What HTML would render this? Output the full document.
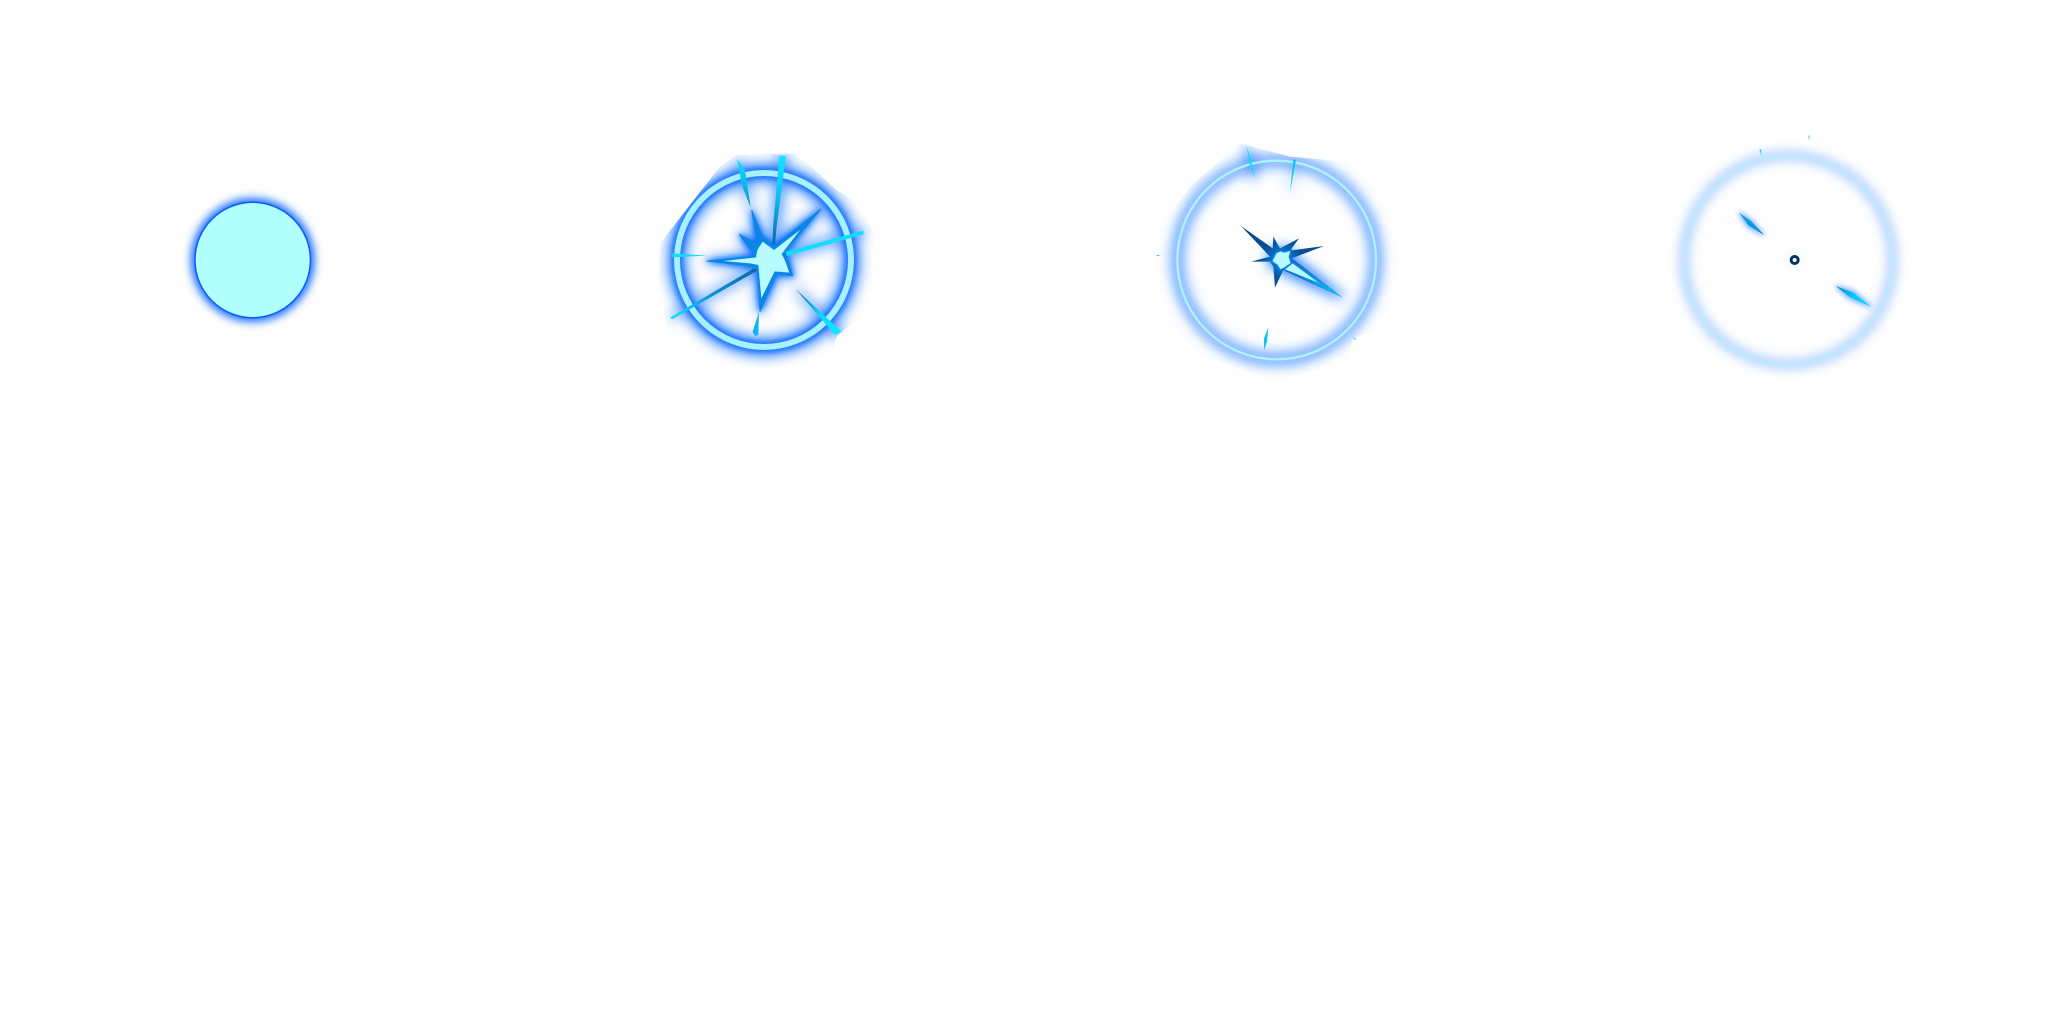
<!DOCTYPE html>
<html lang="en">
<head>
<meta charset="utf-8">
<title>Blue energy burst animation frames</title>
<style>
html,body{margin:0;padding:0;width:2048px;height:1024px;overflow:hidden;background:#fefefe}
svg{display:block}
</style>
</head>
<body>
<svg width="2048" height="1024" viewBox="0 0 2048 1024" xmlns="http://www.w3.org/2000/svg">
<defs>
<filter id="g1" filterUnits="userSpaceOnUse" x="100" y="100" width="320" height="320"><feGaussianBlur stdDeviation="4.5"/></filter>
<filter id="g2" filterUnits="userSpaceOnUse" x="-200" y="-200" width="1300" height="1300"><feGaussianBlur stdDeviation="20"/></filter>
<filter id="g2t" filterUnits="userSpaceOnUse" x="-200" y="-200" width="1300" height="1300"><feGaussianBlur stdDeviation="9"/></filter>
<filter id="g3" filterUnits="userSpaceOnUse" x="-200" y="-200" width="1300" height="1300"><feGaussianBlur stdDeviation="20"/></filter>
<filter id="g4" filterUnits="userSpaceOnUse" x="-200" y="-200" width="1300" height="1300"><feGaussianBlur stdDeviation="17"/></filter>
<filter id="g5" filterUnits="userSpaceOnUse" x="-200" y="-200" width="1300" height="1300"><feGaussianBlur stdDeviation="9"/></filter>
<clipPath id="c2"><polygon points="290,75 470,70 590,180 640,210 700,300 710,450 660,560 590,620 570,700 300,730 90,630 55,480 60,340 150,225 240,110"/></clipPath>
<clipPath id="c3"><polygon points="300,70 450,110 620,125 720,160 780,300 780,600 640,655 620,720 400,790 130,680 35,450 50,330 150,200"/></clipPath>
<linearGradient id="s2a" gradientUnits="userSpaceOnUse" x1="428" y1="78" x2="402" y2="340"><stop offset="0" stop-color="#11e5ff"/><stop offset=".4" stop-color="#0cc8f5"/><stop offset="1" stop-color="#0b69ad"/></linearGradient>
<linearGradient id="s2b" gradientUnits="userSpaceOnUse" x1="292" y1="87" x2="332" y2="235"><stop offset="0" stop-color="#0be4ff"/><stop offset="1" stop-color="#0f8fd0"/></linearGradient>
<linearGradient id="s2c" gradientUnits="userSpaceOnUse" x1="90" y1="565" x2="345" y2="420"><stop offset="0" stop-color="#10e5ff"/><stop offset=".5" stop-color="#0d90d8"/><stop offset="1" stop-color="#0e6aa8"/></linearGradient>
<linearGradient id="s2d" gradientUnits="userSpaceOnUse" x1="468" y1="478" x2="600" y2="610"><stop offset="0" stop-color="#0c6aa8"/><stop offset=".6" stop-color="#0bdcff"/><stop offset="1" stop-color="#10e8ff"/></linearGradient>
<radialGradient id="st3" gradientUnits="userSpaceOnUse" cx="425" cy="420" r="150"><stop offset="0" stop-color="#0a8cf0"/><stop offset=".4" stop-color="#074f98"/><stop offset="1" stop-color="#06467c"/></radialGradient>
<linearGradient id="sp3" gradientUnits="userSpaceOnUse" x1="450" y1="430" x2="607" y2="532"><stop offset="0" stop-color="#0a74d8"/><stop offset="1" stop-color="#08c8ff"/></linearGradient>
<linearGradient id="d4a" gradientUnits="userSpaceOnUse" x1="237" y1="278" x2="312" y2="345"><stop offset="0" stop-color="#0aa8ea"/><stop offset=".7" stop-color="#0a96dc"/><stop offset="1" stop-color="#06508c"/></linearGradient>
<linearGradient id="d4b" gradientUnits="userSpaceOnUse" x1="527" y1="498" x2="633" y2="560"><stop offset="0" stop-color="#0a80d0"/><stop offset=".5" stop-color="#04c8ff"/><stop offset="1" stop-color="#08d8ff"/></linearGradient>
</defs>

<rect width="2048" height="1024" fill="#fefefe"/>

<!-- Frame 1 -->
<g>
<circle cx="252.7" cy="260" r="61.5" fill="#0a62ff" filter="url(#g1)"/>
<circle cx="252.7" cy="260" r="58.5" fill="#0060ff"/>
<circle cx="252.7" cy="260" r="57" fill="#b2ffff"/>
</g>

<!-- Frame 2 -->
<g transform="translate(640 130) scale(.33333)">
<g clip-path="url(#c2)">
<g filter="url(#g2)" fill="#0a6cff" stroke="#0a6cff" opacity=".8">
<circle cx="372" cy="390" r="261" fill="none" stroke-width="55"/>
<polygon stroke-width="14" points="298,313 350,340 335,240 368,320 402,348 543,237 435,365 445,395 458,437 410,432 360,545 352,415 330,408 200,393 345,378"/>
<polygon stroke-width="12" points="418,78 438,78 410,340 397,340"/>
<polygon stroke-width="12" points="292,87 315,120 332,232"/>
<polygon stroke-width="12" points="670,302 670,312 440,378 435,365"/>
<polygon stroke-width="12" points="90,565 340,418 355,420 150,535"/>
<polygon stroke-width="12" points="468,478 605,605 585,615"/>
</g>
<g filter="url(#g2t)" fill="none" stroke="#0a6cff">
<circle cx="372" cy="390" r="261" stroke-width="30"/>
<polygon fill="#0a6cff" stroke-width="6" points="298,313 350,340 335,240 368,320 402,348 543,237 435,365 445,395 458,437 410,432 360,545 352,415 330,408 200,393 345,378"/>
</g>
</g>
<circle cx="372" cy="390" r="261" fill="none" stroke="#a6f0ff" stroke-width="18"/>
<polygon points="292,87 315,120 332,232 305,165" fill="url(#s2b)"/>
<polygon points="418,78 438,78 410,290 405,345 397,345 400,280" fill="url(#s2a)"/>
<polygon points="670,302 670,313 440,378 434,366" fill="#0fdcff"/>
<polygon points="97,370 203,377 97,382" fill="#14dcff"/>
<polygon points="90,563 340,416 355,420 96,568" fill="url(#s2c)"/>
<polygon points="357,545 355,615 345,618 338,605" fill="#0fb4f0"/>
<polygon points="468,478 605,605 585,615" fill="url(#s2d)"/>
<polygon points="298,313 352,343 335,240 368,320 402,348 543,237 435,365 445,395 458,437 410,432 360,545 352,415 330,408 200,393 345,378" fill="#0c86e6" stroke="#0c86e6" stroke-width="3" stroke-miterlimit="2"/>
<polygon points="352,360 368,335 402,360 480,300 425,372 435,392 448,428 404,424 364,505 355,405 330,400 250,393 348,382" fill="#b8fbff"/>
</g>

<!-- Frame 3 -->
<g transform="translate(1140 120) scale(.33333)">
<g clip-path="url(#c3)">
<g filter="url(#g3)" fill="#0a6cff" stroke="#0a6cff">
<circle cx="410" cy="420" r="298" fill="none" stroke-width="32" opacity=".75"/>
<polygon stroke-width="14" points="320,78 345,175 330,130"/>
<polygon stroke-width="6" opacity=".5" points="460,118 467,120 450,218"/>
<polygon stroke-width="14" points="395,395 450,392 455,415 607,532 430,450 390,425"/>
</g>
</g>
<circle cx="410" cy="420" r="298" fill="none" stroke="#a8f4ff" stroke-width="7"/>
<polygon points="320,78 333,120 345,175 328,130" fill="#0ce0ff"/>
<polygon points="460,118 468,120 450,218" fill="#0cc8f0"/>
<polygon points="385,622 381,665 372,690 372,655" fill="#0cc0f5"/>
<polygon points="50,404 64,407 50,408" fill="#2cc8ff"/>
<polygon points="640,650 650,660 642,658" fill="#2cd4ff"/>
<polygon points="303,318 398,385 400,350 420,385 477,355 450,392 552,378 455,415 607,532 430,450 405,503 400,440 390,425 333,425 390,410" fill="url(#st3)"/>
<polygon points="455,418 607,532 435,450" fill="url(#sp3)"/>
<polygon points="458,430 535,488 435,448" fill="#b8fbff"/>
<polygon points="408,398 422,392 432,396 454,390 448,410 454,430 432,445 420,450 412,436 395,424" fill="#b8fbff" stroke="#0a80f0" stroke-width="4"/>
</g>

<!-- Frame 4 -->
<g transform="translate(1660 120) scale(.33333)">
<g>
<circle cx="385" cy="420" r="313" fill="none" stroke="#2a80ff" stroke-width="26" filter="url(#g4)" opacity=".42"/>
<g filter="url(#g5)" fill="#0a6cff" stroke="#0a6cff" opacity=".6" stroke-width="6">
<polygon points="237,278 270,300 312,345 265,320"/>
<polygon points="527,498 580,515 633,560 570,535"/>
</g>
<circle cx="404" cy="420" r="14" fill="#4a90ff" filter="url(#g4)" opacity=".2"/>
</g>
<circle cx="385" cy="420" r="316" fill="none" stroke="#b4efff" stroke-width="2.5"/>
<circle cx="385" cy="420" r="310" fill="none" stroke="#b4efff" stroke-width="2.5"/>
<polygon points="237,278 272,302 312,345 265,316" fill="url(#d4a)"/>
<polygon points="527,498 580,518 633,560 572,533" fill="url(#d4b)"/>
<polygon points="298,88 304,88 305,110" fill="#1cd8ff"/>
<polygon points="445,47 450,47 447,62" fill="#4cd4ff"/>
<circle cx="404" cy="420" r="10.5" fill="#ffffff" stroke="#04305e" stroke-width="9"/>
</g>
</svg>
</body>
</html>
